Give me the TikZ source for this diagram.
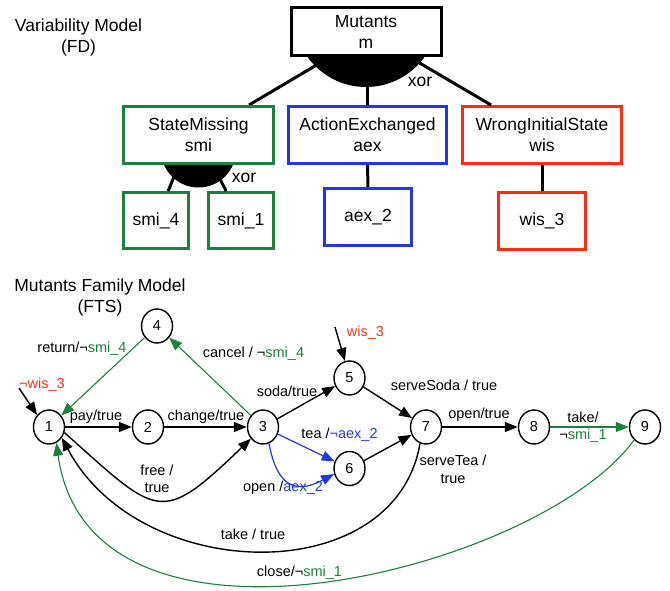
\documentclass[tikz,border=0pt]{standalone}
\usepackage{fontspec}
\setmainfont{Liberation Sans}
\usetikzlibrary{arrows.meta,shapes.geometric}
\definecolor{fgreen}{RGB}{28,128,62}
\definecolor{fblue}{RGB}{35,55,225}
\definecolor{fred}{RGB}{255,45,15}
\begin{document}
\begin{tikzpicture}[x=1pt,y=-1pt,
  title/.style={font=\fontsize{17.5}{21}\selectfont, inner sep=0pt, align=center},
  lab/.style={font=\fontsize{14.5}{17.5}\selectfont, inner sep=0pt, align=center},
  feat/.style={draw, line width=3pt, fill=white, align=center, inner sep=0pt,
    font=\fontsize{17.5}{21}\selectfont},
  fline/.style={line width=3pt},
  state/.style={draw, ellipse, line width=1.4pt, minimum width=31pt, minimum height=34pt,
    inner sep=0pt, fill=white, font=\fontsize{14.5}{17}\selectfont},
  tr/.style={-{Triangle[length=13pt,width=10pt]}, line width=1.4pt},
  gtr/.style={tr, draw=fgreen, line width=1.1pt},
  btr/.style={tr, draw=fblue, line width=1.2pt},
]
\useasboundingbox (0,0) rectangle (670,591);

% ---------- Feature diagram ----------
\node[title] (fdtitle) at (78.5,37.5) {Variability Model\\(FD)};

\coordinate (xl) at (325,60);
\coordinate (xc) at (367.5,70);
\coordinate (xr) at (414.5,60);
\coordinate (sl) at (176,172);
\coordinate (sr) at (218,175);

\node[feat, minimum width=150pt, minimum height=48pt] (m) at (366,31.5) {Mutants\\m};
\node[feat, draw=fgreen, minimum width=150pt, minimum height=57pt] (sm) at (198.5,135) {StateMissing\\smi};
\node[feat, draw=fblue, minimum width=158pt, minimum height=57pt] (ae) at (367.5,135) {ActionExchanged\\aex};
\node[feat, draw=fred, minimum width=159pt, minimum height=57pt] (wi) at (542,135) {WrongInitialState\\wis};
\node[feat, draw=fgreen, minimum width=65pt, minimum height=56pt] (s4) at (156,220.5) {smi\_4};
\node[feat, draw=fgreen, minimum width=65pt, minimum height=56pt] (s1) at (241,220.5) {smi\_1};
\node[feat, draw=fblue, minimum width=87pt, minimum height=57pt] (a2) at (368,217) {aex\_2};
\node[feat, draw=fred, minimum width=87pt, minimum height=57pt] (w3) at (542,221) {wis\_3};

\draw[fline] (xl) -- (sm);
\draw[fline] (xc) -- (ae);
\draw[fline] (xr) -- (wi);
\draw[fline] (sl) -- (s4);
\draw[fline] (sr) -- (s1);
\draw[fline] (ae) -- (a2);
\draw[fline] (wi) -- (w3);

\begin{scope}
  \clip (280,57) rectangle (455,120);
  \fill (366,15) circle[radius=72pt];
\end{scope}
\begin{scope}
  \clip (150,165) rectangle (250,200);
  \fill (198.5,150) circle[radius=37.5pt];
\end{scope}
\node[title] (xor1) at (420,82) {xor};
\node[title] (xor2) at (244,178) {xor};

% redraw box borders so the arcs sit beneath them
\node[draw, line width=3pt, minimum width=150pt, minimum height=48pt] at (m) {};
\node[draw=fgreen, line width=3pt, minimum width=150pt, minimum height=57pt] at (sm) {};

% ---------- FTS ----------
\node[title] (ftstitle) at (100,297.5) {Mutants Family Model\\(FTS)};

\node[state] (n1) at (49,427) {1};
\node[state] (n2) at (148,427) {2};
\node[state] (n3) at (263,427) {3};
\node[state] (n4) at (157,326) {4};
\node[state] (n5) at (349.5,378) {5};
\node[state] (n6) at (349.5,468.5) {6};
\node[state] (n7) at (426,427) {7};
\node[state] (n8) at (534,427) {8};
\node[state] (n9) at (645,427) {9};

\coordinate (i1) at (19,388);
\coordinate (i5) at (335,327);

\draw[tr] (i1) -- (n1.135);
\draw[tr] (i5) -- (n5.105);
\draw[tr] (n1) -- (n2);
\draw[tr] (n2) -- (n3);
\draw[tr] (n3) -- (n5);
\draw[tr] (n5) -- (n7);
\draw[tr] (n6) -- (n7);
\draw[tr] (n7) -- (n8);
\draw[gtr] (n8) -- (n9);
\draw[gtr] (n4) -- (n1);
\draw[gtr] (n3) -- (n4);
\draw[btr] (n3) -- (n6);
\draw[btr] (n3.-70) .. controls (278,492) and (300,492) .. (n6.-160);
\draw[tr] (n1.-20) .. controls (159,517) and (160,526) .. (n3.-136);
\draw[tr] (n7.-110) .. controls (395,590) and (140,585) .. (n1.-40);
\draw[gtr] (n9.-130) .. controls (540,570) and (90,685) .. (n1.-65);

\node[lab] (lret) at (82,349) {return/¬\textcolor{fgreen}{smi\_4}};
\node[lab] (lcan) at (253.5,354) {cancel / ¬\textcolor{fgreen}{smi\_4}};
\node[lab, text=fred] (lwis1) at (42,385) {¬wis\_3};
\node[lab] (lpay) at (96,417) {pay/true};
\node[lab] (lchg) at (206,417) {change/true};
\node[lab] (lsoda) at (287,391) {soda/true};
\node[lab] (ltea) at (339.5,435) {tea /\textcolor{fblue}{¬aex\_2}};
\node[lab] (lfree) at (157,479) {free /\\true};
\node[lab] (lopen) at (283,488) {open /\textcolor{fblue}{aex\_2}};
\node[lab] (ltake) at (253,534) {take / true};
\node[lab] (lclose) at (299.5,573) {close/¬\textcolor{fgreen}{smi\_1}};
\node[lab, text=fred] (lwis2) at (365.5,333) {wis\_3};
\node[lab] (lss) at (444,385) {serveSoda / true};
\node[lab] (lot) at (479,415) {open/true};
\node[lab] (ltk) at (583,427) {take/\\¬\textcolor{fgreen}{smi\_1}};
\node[lab] (lst) at (453,469.5) {serveTea /\\true};
\end{tikzpicture}
\end{document}
